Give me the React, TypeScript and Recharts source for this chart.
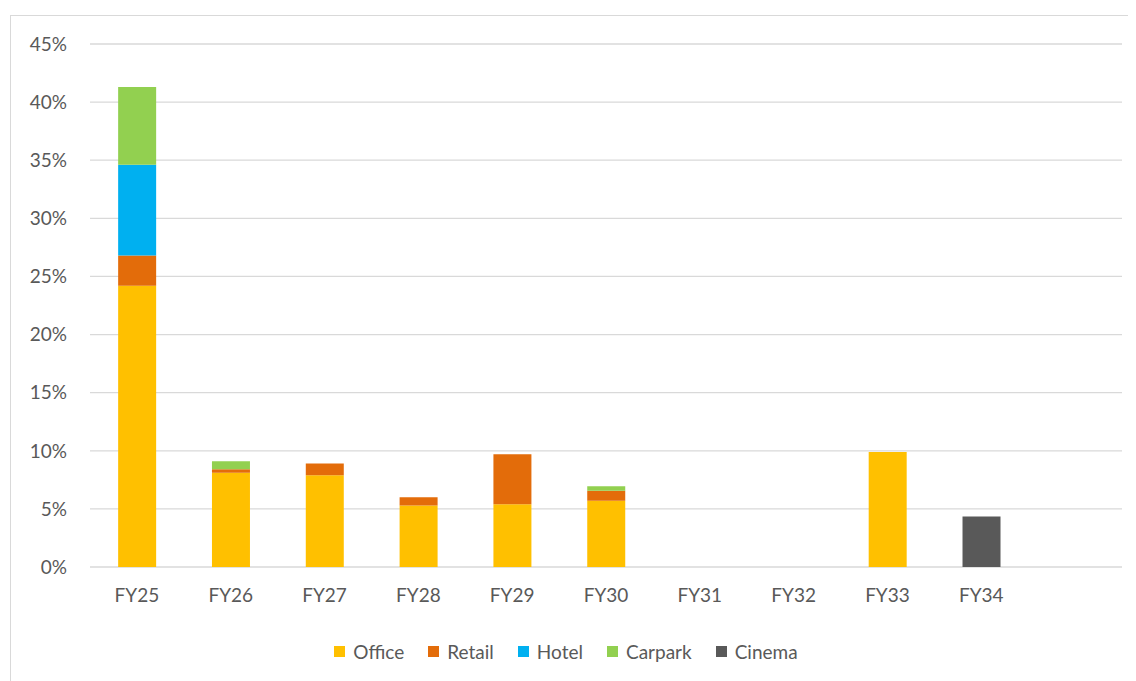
import { BarChart, Bar, XAxis, YAxis, CartesianGrid, Legend } from "recharts";

const categories = ["FY25", "FY26", "FY27", "FY28", "FY29", "FY30", "FY31", "FY32", "FY33", "FY34", ""];
const office = [24.2, 8.1, 7.9, 5.3, 5.4, 5.7, 0, 0, 9.9, 0, 0];
const retail = [2.6, 0.3, 1.0, 0.7, 4.3, 0.85, 0, 0, 0, 0, 0];
const hotel = [7.8, 0, 0, 0, 0, 0, 0, 0, 0, 0, 0];
const carpark = [6.7, 0.7, 0, 0, 0, 0.4, 0, 0, 0, 0, 0];
const cinema = [0, 0, 0, 0, 0, 0, 0, 0, 0, 4.35, 0];
const yTicks = [0, 5, 10, 15, 20, 25, 30, 35, 40, 45];

const series = [
  { key: "office", name: "Office", color: "#FFC000" },
  { key: "retail", name: "Retail", color: "#E36C0A" },
  { key: "hotel", name: "Hotel", color: "#00B0F0" },
  { key: "carpark", name: "Carpark", color: "#92D050" },
  { key: "cinema", name: "Cinema", color: "#595959" },
];

const data = categories.map((c, i) => ({
  cat: c,
  office: office[i],
  retail: retail[i],
  hotel: hotel[i],
  carpark: carpark[i],
  cinema: cinema[i],
}));

const FONT = "Lato, 'Open Sans', sans-serif";
const tick = { fontSize: 19, fill: "#595959", fontFamily: FONT };

function renderLegend() {
  return (
    <div style={{ display: "flex", justifyContent: "center", alignItems: "center", height: 24, gap: 24, fontFamily: FONT, fontSize: 19, color: "#595959" }}>
      {series.map((s) => (
        <div key={s.key} style={{ display: "flex", alignItems: "center", gap: 8 }}>
          <span style={{ width: 11, height: 11, background: s.color, display: "inline-block" }} />
          <span>{s.name}</span>
        </div>
      ))}
    </div>
  );
}

export default function App() {
  return (
    <div style={{ marginLeft: 2, marginTop: 7, borderTop: "1px solid #D9D9D9", borderLeft: "1px solid #D9D9D9", width: 1126, height: 665 }}>
      <BarChart width={1125} height={665} data={data} margin={{ top: 28, right: 14, left: 0, bottom: 18 }} barCategoryGap="30%">
        <CartesianGrid horizontal vertical={false} stroke="#D9D9D9" strokeWidth={1.3} />
        <XAxis dataKey="cat" tick={tick} axisLine={false} tickLine={false} tickSize={0} tickMargin={22} height={72} interval={0} />
        <YAxis
          domain={[0, 45]}
          ticks={yTicks}
          tickFormatter={(v: number) => `${v}%`}
          tick={tick}
          axisLine={false}
          tickLine={false}
          tickSize={0}
          tickMargin={23}
          width={79}
        />
        <Legend verticalAlign="bottom" content={renderLegend} wrapperStyle={{ left: 0, width: 1110 }} />
        {series.map((s) => (
          <Bar key={s.key} dataKey={s.key} name={s.name} stackId="a" fill={s.color} isAnimationActive={false} />
        ))}
      </BarChart>
    </div>
  );
}
